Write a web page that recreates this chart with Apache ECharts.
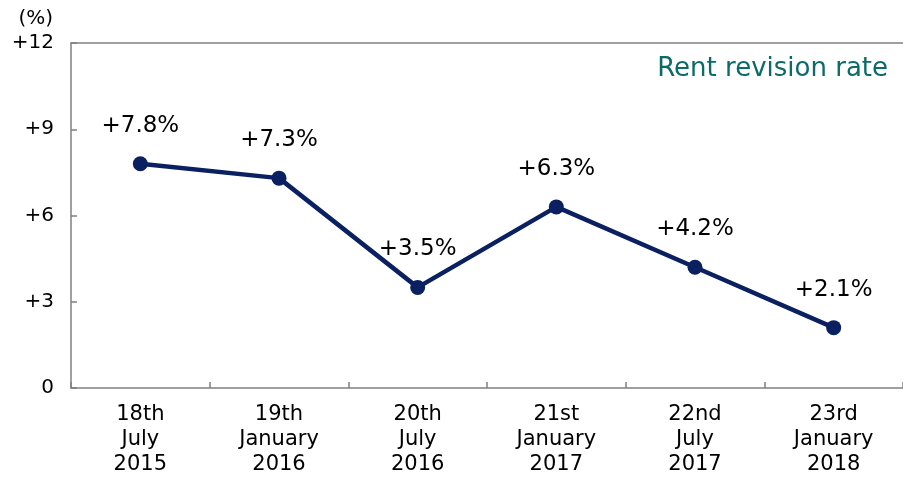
<!DOCTYPE html>
<html>
<head>
<meta charset="utf-8">
<script src="https://cdn.jsdelivr.net/npm/echarts@6/dist/echarts.min.js"></script>
<style>
  html, body { margin: 0; padding: 0; background: #fff; }
  #line { width: 903px; height: 477px; }
</style>
</head>
<body>
<div id="line"></div>
<script>
var categories = ['18th\nJuly\n2015', '19th\nJanuary\n2016', '20th\nJuly\n2016',
                  '21st\nJanuary\n2017', '22nd\nJuly\n2017', '23rd\nJanuary\n2018'];
var revisionRate = [7.8, 7.3, 3.5, 6.3, 4.2, 2.1];
var yTicks = [0, 3, 6, 9, 12];
var seriesName = 'Rent revision rate';

var font = '"DejaVu Sans", Verdana, sans-serif';
var axisGrey = '#808080';
var chart = echarts.init(document.getElementById('line'), null, {renderer: 'canvas'});

chart.setOption({
    animation: false,
    textStyle: {fontFamily: font},
    grid: {left: 71, top: 43, width: 834, height: 346},
    legend: {
        data: [seriesName],
        right: 10, top: 51,
        itemWidth: 0, itemHeight: 0, itemGap: 0,
        icon: 'rect',
        textStyle: {color: '#0b6b68', fontSize: 26, fontFamily: font}
    },
    xAxis: [{
        type: 'category',
        data: categories,
        boundaryGap: true,
        axisLine: {lineStyle: {color: axisGrey, width: 1.5}},
        axisTick: {show: true, inside: true, length: 6, lineStyle: {color: axisGrey, width: 1.5}},
        axisLabel: {color: '#000', fontSize: 21, lineHeight: 25, margin: 14, fontFamily: font}
    }, {
        // top border of the plot
        type: 'category',
        data: categories,
        position: 'top',
        axisLine: {show: true, lineStyle: {color: axisGrey, width: 1.5}},
        axisTick: {show: false},
        axisLabel: {show: false}
    }],
    yAxis: {
        type: 'value',
        min: yTicks[0], max: yTicks[yTicks.length - 1], interval: 3,
        name: '(%)',
        nameLocation: 'end',
        nameGap: 14,
        nameTextStyle: {color: '#000', fontSize: 20, align: 'right', padding: [0, 18, 0, 0], fontFamily: font},
        axisLine: {show: true, lineStyle: {color: axisGrey, width: 1.5}},
        axisTick: {show: true, inside: true, length: 6, lineStyle: {color: axisGrey, width: 1.5}},
        splitLine: {show: false},
        axisLabel: {
            color: '#000', fontSize: 20, margin: 17, fontFamily: font,
            formatter: function (v) { return v === 0 ? '0' : '+' + v; }
        }
    },
    series: [{
        name: seriesName,
        type: 'line',
        data: revisionRate,
        symbol: 'circle',
        symbolSize: 15,
        lineStyle: {color: '#0a2060', width: 4.5},
        itemStyle: {color: '#0a2060'},
        label: {
            show: true, position: 'top', distance: 19,
            color: '#000', fontSize: 23, fontFamily: font,
            formatter: function (p) { return '+' + p.value.toFixed(1) + '%'; }
        }
    }]
});
</script>
</body>
</html>
